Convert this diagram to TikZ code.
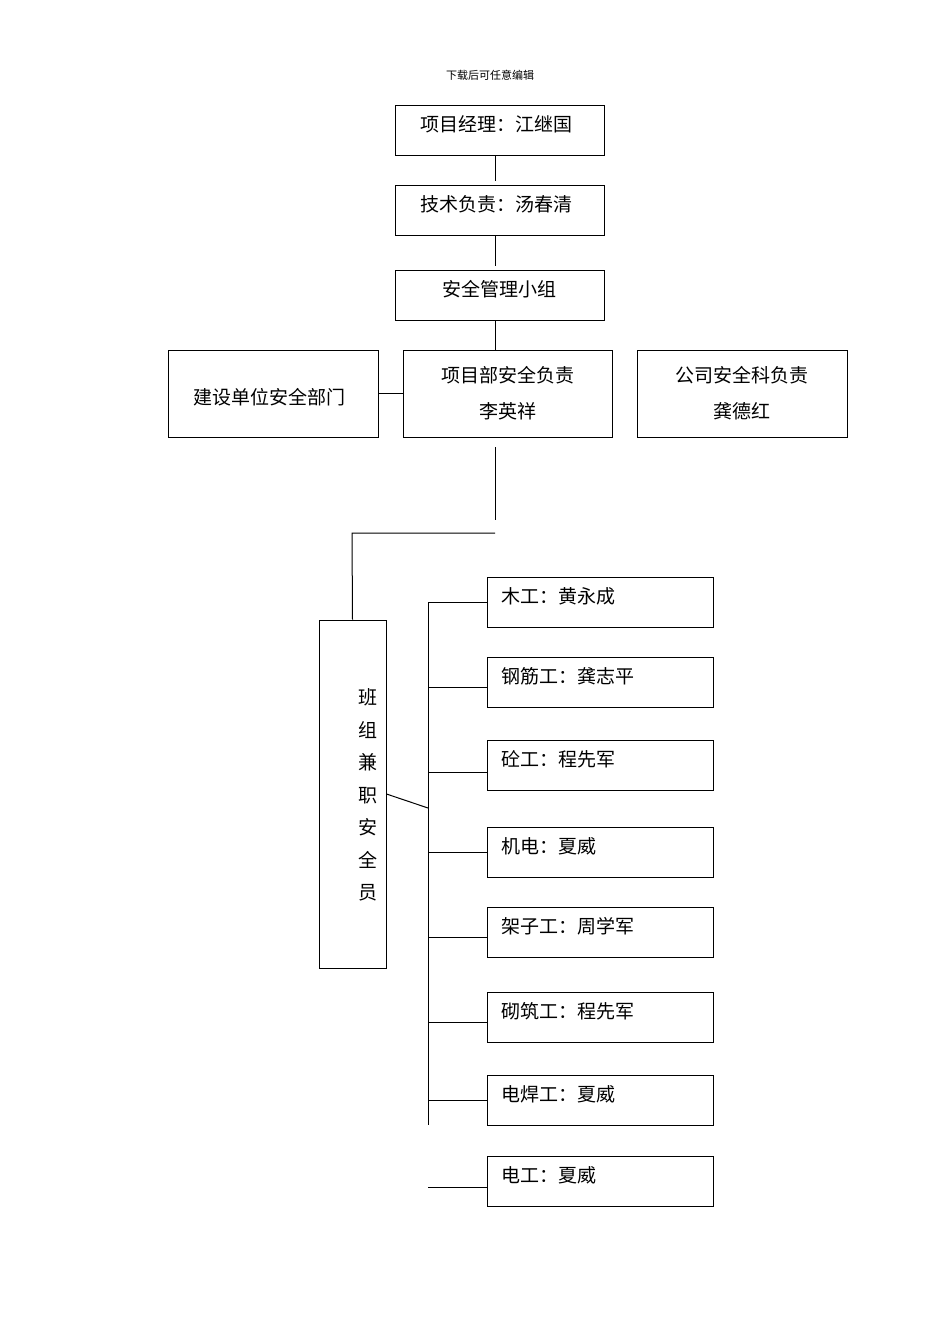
\documentclass[tikz,border=0pt]{standalone}
\usepackage{fontspec}
\setmainfont{Noto Sans CJK SC}
\begin{document}
\begin{tikzpicture}[x=1pt,y=-1pt,
 bx/.style={draw,line width=1pt,inner sep=0pt},
 ln/.style={line width=1pt},
 t/.style={font=\fontsize{19}{24}\selectfont}]
\path[use as bounding box] (0,0) rectangle (950,1344);
\node[font=\fontsize{11}{13}\selectfont] (hd) at (490,75) {下载后可任意编辑};
\node[bx,minimum width=209pt,minimum height=50pt] (b1) at (499.5,130) {};
\node[t] at (496,124) {项目经理：江继国};
\node[bx,minimum width=209pt,minimum height=50pt] (b2) at (499.5,210) {};
\node[t] at (496,204) {技术负责：汤春清};
\node[bx,minimum width=209pt,minimum height=50pt] (b3) at (499.5,295) {};
\node[t] at (499,289) {安全管理小组};
\node[bx,minimum width=210pt,minimum height=87pt] (c1) at (273,393.5) {};
\node[t] at (269,397) {建设单位安全部门};
\node[bx,minimum width=209pt,minimum height=87pt,align=center,font=\fontsize{19}{36}\selectfont] (c2) at (507.5,393.5) {项目部安全负责\\李英祥};
\node[bx,minimum width=210pt,minimum height=87pt,align=center,font=\fontsize{19}{36}\selectfont] (c3) at (742,393.5) {公司安全科负责\\龚德红};
\draw[ln] (b1.south) ++(-4,0) coordinate (p1) -- ++(0,25);
\draw[ln] (b2.south) ++(-4,0) -- ++(0,30);
\draw[ln] (b3.south) ++(-4,0) -- ++(0,30);
\draw[ln] (c1.east) -- (c2.west);
\coordinate (q1) at (495,447);
\coordinate (q2) at (495,520);
\coordinate (q3) at (495,533);
\coordinate (q4) at (352,533);
\node[bx,minimum width=67pt,minimum height=348pt] (bz) at (352.5,794) {};
\node[t,align=center,font=\fontsize{19}{32.5}\selectfont] at (368,795) {班\\组\\兼\\职\\安\\全\\员};
\draw[ln] (q1) -- (q2);
\draw[ln] (q3) -- (q4) -- (bz.north);
\coordinate (v0) at (428,602);
\coordinate (v1) at (428,1125);
\draw[ln] (v0) -- (v1);
\draw[ln] (bz.east) -- (428,808);
\foreach \y/\tx [count=\i] in {602/木工：黄永成,682/钢筋工：龚志平,765/砼工：程先军,852/机电：夏威,932/架子工：周学军,1017/砌筑工：程先军,1100/电焊工：夏威,1181/电工：夏威}{
 \node[bx,minimum width=226pt,minimum height=50pt] (r\i) at (600,\y) {};
 \node[t,anchor=west] at (498,\y-6) {\tx};
}
\foreach \i/\y in {1/602,2/687,3/772,4/852,5/937,6/1022,7/1100}{
 \draw[ln] (428,\y) -- (r\i.west |- 0,\y);
}
\draw[ln] (428,1187) -- (r8.west |- 0,1187);
\end{tikzpicture}
\end{document}
